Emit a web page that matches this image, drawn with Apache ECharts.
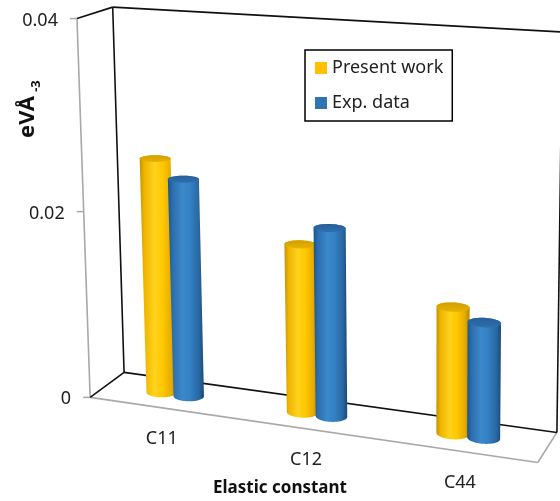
<!DOCTYPE html>
<html>
<head>
<meta charset="utf-8">
<script src="https://cdn.jsdelivr.net/npm/echarts@6/dist/echarts.min.js"></script>
<style>
  html, body { margin: 0; padding: 0; background: #fff; }
  #chart { width: 560px; height: 501px; }
</style>
</head>
<body>
<div id="chart"></div>
<script>
// ---- data ----
const categories = ['C11', 'C12', 'C44'];
const seriesNames = ['Present work', 'Exp. data'];
const presentWork = [0.0252, 0.0177, 0.0130];
const expData = [0.0233, 0.0197, 0.0118];
const yTicks = [0, 0.02, 0.04];
const yTickLabels = ['0', '0.02', '0.04'];
const yMax = 0.04;

// ---- 3D box layout ----
// Each entry: [u, v, w] box coordinate -> [x, y] on screen.
// u runs along the categories, v is the value fraction, w is depth (0 front, 1 back).
const boxCorners = [
  [[0, 0, 0], [90, 397]],
  [[0, 1, 0], [77, 18]],
  [[0, 0.5, 0], [83.6, 213]],
  [[1, 0, 0], [538, 462]],
  [[0, 0, 1], [124, 372]],
  [[0, 1, 1], [113, 7]],
  [[1, 0, 1], [557, 433]],
  [[1, 1, 1], [562, 32]]
];

function solveLinear(M, r) {
  const n = r.length;
  const a = M.map((row, i) => row.concat([r[i]]));
  for (let c = 0; c < n; c++) {
    let p = c;
    for (let i = c + 1; i < n; i++) if (Math.abs(a[i][c]) > Math.abs(a[p][c])) p = i;
    [a[c], a[p]] = [a[p], a[c]];
    for (let i = c + 1; i < n; i++) {
      const f = a[i][c] / a[c][c];
      for (let j = c; j <= n; j++) a[i][j] -= f * a[c][j];
    }
  }
  const x = new Array(n).fill(0);
  for (let i = n - 1; i >= 0; i--) {
    let s = a[i][n];
    for (let j = i + 1; j < n; j++) s -= a[i][j] * x[j];
    x[i] = s / a[i][i];
  }
  return x;
}

// Least-squares perspective camera (3x4 matrix, last entry fixed to 1)
function fitCamera(pairs) {
  const A = [], b = [];
  pairs.forEach(([[u, v, w], [x, y]]) => {
    A.push([u, v, w, 1, 0, 0, 0, 0, -x * u, -x * v, -x * w]); b.push(x);
    A.push([0, 0, 0, 0, u, v, w, 1, -y * u, -y * v, -y * w]); b.push(y);
  });
  const N = Array.from({ length: 11 }, () => new Array(11).fill(0));
  const r = new Array(11).fill(0);
  for (let k = 0; k < A.length; k++) {
    for (let i = 0; i < 11; i++) {
      r[i] += A[k][i] * b[k];
      for (let j = 0; j < 11; j++) N[i][j] += A[k][i] * A[k][j];
    }
  }
  return solveLinear(N, r);
}

const cam = fitCamera(boxCorners);
function project(u, v, w) {
  const d = cam[8] * u + cam[9] * v + cam[10] * w + 1;
  return [
    (cam[0] * u + cam[1] * v + cam[2] * w + cam[3]) / d,
    (cam[4] * u + cam[5] * v + cam[6] * w + cam[7]) / d
  ];
}

// grid pixel -> box fractions
function toBox(params, pt) {
  const cs = params.coordSys;
  return [(pt[0] - cs.x) / cs.width, (cs.y + cs.height - pt[1]) / cs.height];
}

function convexHull(pts) {
  const p = pts.slice().sort((a, b) => a[0] - b[0] || a[1] - b[1]);
  const cross = (o, a, b) => (a[0] - o[0]) * (b[1] - o[1]) - (a[1] - o[1]) * (b[0] - o[0]);
  const lower = [], upper = [];
  for (const q of p) {
    while (lower.length >= 2 && cross(lower[lower.length - 2], lower[lower.length - 1], q) <= 0) lower.pop();
    lower.push(q);
  }
  for (let i = p.length - 1; i >= 0; i--) {
    const q = p[i];
    while (upper.length >= 2 && cross(upper[upper.length - 2], upper[upper.length - 1], q) <= 0) upper.pop();
    upper.push(q);
  }
  upper.pop(); lower.pop();
  return lower.concat(upper);
}

const barDepth = 0.5;      // bars stand in the middle of the floor
const barRadiusU = 0.034;
const barRadiusW = 0.18;
const barSpacingU = 0.066;

const palettes = [
  {
    legend: '#FFC000',
    body: [[0, '#C49200'], [0.12, '#EDB400'], [0.4, '#FFD21C'], [0.62, '#FFC800'], [0.86, '#E6AB00'], [1, '#B48400']],
    top: [[0, '#D29E00'], [1, '#E8B200']]
  },
  {
    legend: '#2E75B6',
    body: [[0, '#1C5286'], [0.12, '#2B6DAB'], [0.4, '#3B88CB'], [0.62, '#3380C3'], [0.86, '#2968A3'], [1, '#184A78']],
    top: [[0, '#255F99'], [1, '#2E6FAD']]
  }
];

function ring(u, v, w) {
  const pts = [];
  for (let k = 0; k < 48; k++) {
    const t = (k / 48) * Math.PI * 2;
    pts.push(project(u + barRadiusU * Math.cos(t), v, w + barRadiusW * Math.sin(t)));
  }
  return pts;
}

function cylinderSeries(idx, values) {
  const pal = palettes[idx];
  return {
    type: 'custom',
    name: seriesNames[idx],
    coordinateSystem: 'cartesian2d',
    clip: false,
    z: 5 + idx,
    itemStyle: { color: pal.legend },
    data: values.map((v, i) => [i, v]),
    renderItem: (params, api) => {
      const [uc, v] = toBox(params, api.coord([api.value(0), api.value(1)]));
      const u = uc + (idx === 0 ? -1 : 1) * barSpacingU / 2;
      const bottom = ring(u, 0, barDepth);
      const topRing = ring(u, v, barDepth);
      const hull = convexHull(bottom.concat(topRing));
      const xs = hull.map(p => p[0]);
      const x0 = Math.min(...xs), x1 = Math.max(...xs);
      const ys = topRing.map(p => p[1]);
      const ty0 = Math.min(...ys), ty1 = Math.max(...ys);
      const grad = (x0_, y0_, x1_, y1_, stops) => new echarts.graphic.LinearGradient(
        x0_, y0_, x1_, y1_, stops.map(s => ({ offset: s[0], color: s[1] })), true);
      return {
        type: 'group',
        children: [
          { type: 'polygon', shape: { points: hull }, style: { fill: grad(x0, 0, x1, 0, pal.body) } },
          { type: 'polygon', shape: { points: topRing }, style: { fill: grad(0, ty0, 0, ty1, pal.top) } }
        ]
      };
    }
  };
}

const option = {
  animation: false,
  color: palettes.map(p => p.legend),
  grid: { left: 100, top: 60, width: 300, height: 300, show: false },
  xAxis: { type: 'category', data: categories, show: false },
  yAxis: { type: 'value', min: 0, max: yMax, interval: 0.02, show: false },
  legend: {
    orient: 'vertical',
    left: 305,
    top: 50,
    data: seriesNames,
    icon: 'rect',
    itemWidth: 12,
    itemHeight: 12,
    itemGap: 15,
    padding: [8, 9, 8, 10],
    borderColor: '#000',
    borderWidth: 1.5,
    textStyle: { fontFamily: 'Noto Sans', fontSize: 18, color: '#222', lineHeight: 20 }
  },
  graphic: [
    {
      type: 'text', x: 280, y: 488,
      style: { text: 'Elastic constant', font: 'bold 17px "Noto Sans"', fill: '#111', align: 'center', verticalAlign: 'middle' }
    },
    {
      type: 'text', x: 28, y: 117, rotation: Math.PI / 2,
      style: { text: 'eVÅ', font: 'bold 22px "Noto Sans"', fill: '#111', align: 'center', verticalAlign: 'middle' }
    },
    {
      type: 'text', x: 36, y: 86, rotation: Math.PI / 2,
      style: { text: '-3', font: 'bold 13px "Noto Sans"', fill: '#111', align: 'center', verticalAlign: 'middle' }
    }
  ],
  series: [
    {
      // walls and floor of the box
      type: 'custom',
      coordinateSystem: 'cartesian2d',
      clip: false,
      silent: true,
      z: 1,
      data: [[0, 0]],
      renderItem: () => {
        const seg = (a, b, color) => ({
          type: 'line',
          shape: { x1: a[0], y1: a[1], x2: b[0], y2: b[1] },
          style: { stroke: color, lineWidth: 1.6 }
        });
        const P = (u, v, w) => project(u, v, w);
        const gray = '#A9A9A9', dark = '#111';
        return {
          type: 'group',
          children: [
            seg(P(0, 0, 0), P(1, 0, 0), gray),
            seg(P(1, 0, 0), P(1, 0, 1), gray),
            seg(P(0, 0, 0), P(0, 1, 0), gray),
            seg(P(0, 1, 0), P(0, 1, 1), dark),
            seg(P(0, 0, 0), P(0, 0, 1), dark),
            seg(P(0, 1, 1), P(0, 0, 1), dark),
            seg(P(0, 1, 1), P(1, 1, 1), dark),
            seg(P(1, 1, 1), P(1, 0, 1), dark),
            seg(P(0, 0, 1), P(1, 0, 1), dark)
          ]
        };
      }
    },
    {
      // value ticks and their labels on the front-left edge
      type: 'custom',
      coordinateSystem: 'cartesian2d',
      clip: false,
      silent: true,
      z: 2,
      data: yTicks.map((t, i) => [0, t, i]),
      renderItem: (params, api) => {
        const [, v] = toBox(params, api.coord([api.value(0), api.value(1)]));
        const p = project(0, v, 0);
        return {
          type: 'group',
          children: [
            { type: 'line', shape: { x1: p[0] - 7, y1: p[1], x2: p[0], y2: p[1] }, style: { stroke: '#A9A9A9', lineWidth: 1.5 } },
            {
              type: 'text', x: p[0] - 19, y: p[1] + 2,
              style: { text: yTickLabels[api.value(2)], font: '18px "Noto Sans"', fill: '#222', align: 'right', verticalAlign: 'middle' }
            }
          ]
        };
      }
    },
    {
      // category labels below the floor
      type: 'custom',
      coordinateSystem: 'cartesian2d',
      clip: false,
      silent: true,
      z: 2,
      data: categories.map((c, i) => [i, 0]),
      renderItem: (params, api) => {
        const [u] = toBox(params, api.coord([api.value(0), 0]));
        const p = project(u, 0, 0);
        return {
          type: 'text', x: p[0] + 3, y: p[1] + 32,
          style: { text: categories[api.value(0)], font: '18px "Noto Sans"', fill: '#222', align: 'center', verticalAlign: 'middle' }
        };
      }
    },
    cylinderSeries(0, presentWork),
    cylinderSeries(1, expData)
  ]
};

const chart = echarts.init(document.getElementById('chart'), null, { renderer: 'canvas' });
chart.setOption(option);
</script>
</body>
</html>
